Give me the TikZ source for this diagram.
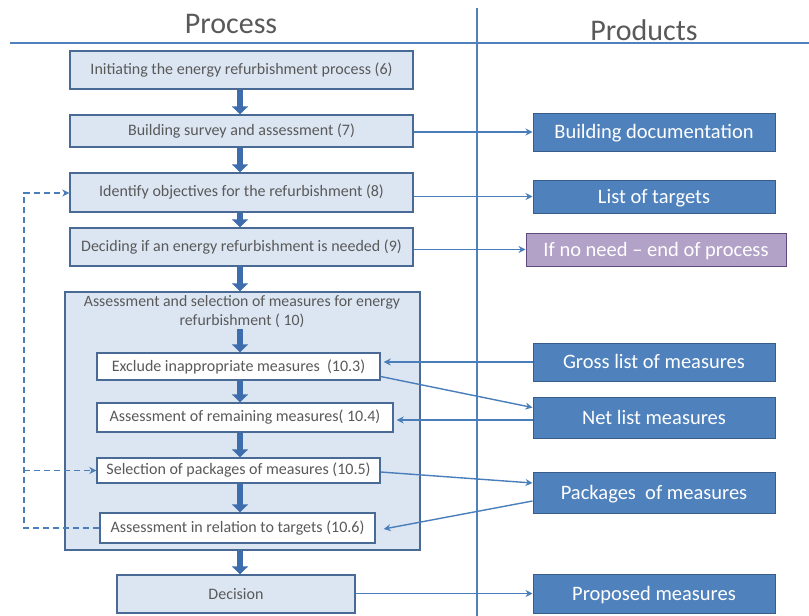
\documentclass[tikz,border=0pt]{standalone}
\usepackage{fontspec}
\setmainfont{Carlito}
\usetikzlibrary{arrows.meta}
\definecolor{boxfill}{HTML}{DCE6F2}
\definecolor{boxdraw}{HTML}{4A6A96}
\definecolor{txtgray}{HTML}{595959}
\definecolor{prodfill}{HTML}{4F81BD}
\definecolor{proddraw}{HTML}{385D8A}
\definecolor{purpfill}{HTML}{B3A2C7}
\definecolor{purpdraw}{HTML}{604A7B}
\definecolor{linecol}{HTML}{4F81BD}
\definecolor{conncol}{HTML}{4A7EBB}
\definecolor{blockcol}{HTML}{3E6DAE}
\begin{document}
\begin{tikzpicture}[x=1pt,y=-1pt,
  procbox/.style={draw=boxdraw, line width=1.4pt, fill=boxfill, text=txtgray, inner sep=0pt,
    font=\fontsize{16}{18}\selectfont, minimum width=343pt},
  subbox/.style={draw=boxdraw, line width=1.4pt, fill=white, text=txtgray, inner sep=0pt,
    font=\fontsize{16}{18}\selectfont},
  prodbox/.style={draw=proddraw, line width=1pt, fill=prodfill, text=white, inner sep=0pt,
    font=\fontsize{20.5}{22}\selectfont, minimum width=242pt, text height=16pt, text depth=3pt},
  title/.style={text=txtgray, font=\fontsize{30}{32}\selectfont, inner sep=0pt},
  blockarrow/.style={draw=blockcol, line width=6pt, -{Triangle[length=8pt,width=16pt]}, shorten >=0pt},
  conn/.style={draw=conncol, line width=1.4pt, -{Stealth[length=7pt,width=7pt]}},
  dashconn/.style={draw=conncol, line width=1.6pt, dash pattern=on 6pt off 4pt, -{Stealth[length=7pt,width=7pt]}},
  divider/.style={draw=linecol, line width=1.6pt}
]
\useasboundingbox (0,0) rectangle (809,616);
\fill[white] (0,0) rectangle (809,616);

% titles and dividers
\node[title] (tproc) at (231,24) {Process};
\node[title] (tprod) at (644,30) {Products};
\coordinate (hl) at (10,43);
\coordinate (hr) at (809,43);
\coordinate (vt) at (477,8);
\coordinate (vb) at (477,616);
\draw[divider] (hl) -- (hr);
\draw[divider] (vt) -- (vb);

% big container
\node[draw=boxdraw, line width=1.4pt, fill=boxfill, minimum width=355pt, minimum height=258pt, inner sep=0pt] (big) at (242.5,421) {};
\node[text=txtgray, font=\fontsize{15.8}{19}\selectfont, align=center, inner sep=0pt] (t10) at (242,312)
  {Assessment and selection of measures for energy\\ refurbishment ( 10)};

% process boxes
\node[procbox, minimum height=38pt] (b1) at (241.5,70) {Initiating the energy refurbishment process (6)};
\node[procbox, minimum height=32pt] (b2) at (241.5,131) {Building survey and assessment (7)};
\node[procbox, minimum height=39pt] (b3) at (241.5,192.5) {Identify objectives for the refurbishment (8)};
\node[procbox, minimum height=38pt] (b4) at (241.5,247) {Deciding if an energy refurbishment is needed (9)};

\node[subbox, minimum width=283pt, minimum height=27pt] (s3) at (238.5,366.5) {Exclude inappropriate measures\ \ (10.3)};
\node[subbox, minimum width=296pt, minimum height=29pt] (s4) at (245,417.5) {Assessment of remaining measures( 10.4)};
\node[subbox, minimum width=283pt, minimum height=25pt] (s5) at (238.5,470.5) {Selection of packages of measures (10.5)};
\node[subbox, minimum width=275pt, minimum height=30pt] (s6) at (237.5,528) {Assessment in relation to targets (10.6)};

\node[procbox, minimum width=238pt, minimum height=38pt] (dec) at (236,594) {Decision};

% products
\node[prodbox, minimum height=38pt] (p1) at (654,132) {Building documentation};
\node[prodbox, minimum height=33pt] (p2) at (654,196.5) {List of targets};
\node[prodbox, draw=purpdraw, fill=purpfill, minimum width=260pt, minimum height=33pt] (p3) at (656,249.5) {If no need -- end of process};
\node[prodbox, minimum height=38pt] (p4) at (654,362) {Gross list of measures};
\node[prodbox, minimum height=41pt] (p5) at (654,417.5) {Net list measures};
\node[prodbox, minimum height=41pt] (p6) at (654,492.5) {Packages\ \ of measures};
\node[prodbox, minimum height=39pt] (p7) at (654,593.5) {Proposed measures};

% block arrows (vertical flow)
\draw[blockarrow] (b1.south -| 240,0) -- (b2.north -| 240,0);
\draw[blockarrow] (b2.south -| 240,0) -- (b3.north -| 240,0);
\draw[blockarrow] (b3.south -| 240,0) -- (b4.north -| 240,0);
\draw[blockarrow] (b4.south -| 240,0) -- (big.north -| 240,0);
\draw[blockarrow] ([yshift=-1pt]t10.south -| 240,0) -- (s3.north -| 240,0);
\draw[blockarrow] (s3.south -| 240,0) -- (s4.north -| 240,0);
\draw[blockarrow] (s4.south -| 240,0) -- (s5.north -| 240,0);
\draw[blockarrow] (s5.south -| 240,0) -- (s6.north -| 240,0);
\draw[blockarrow] (big.south -| 240,0) -- (dec.north -| 240,0);

% connectors to products (yshift is in canvas direction, negative = down)
\draw[conn] (b2.east |- p1.west) -- (p1.west);
\draw[conn] (b3.east |- p2.west) -- (p2.west);
\draw[conn] (b4.east |- p3.west) -- (p3.west);
\draw[conn] (p4.west) -- ([xshift=3pt]s3.east |- p4.west);
\draw[conn] ([yshift=-10pt]s3.east) -- ([yshift=10pt]p5.west);
\draw[conn] ([yshift=-2.5pt]p5.west) -- ([xshift=3pt,yshift=-2.5pt]s4.east);
\draw[conn] ([yshift=-1.5pt]s5.east) -- ([yshift=9.5pt]p6.west);
\draw[conn] ([yshift=-8.5pt]p6.west) -- ([xshift=8pt,yshift=-1pt]s6.east);
\draw[conn] (dec.east |- p7.west) -- (p7.west);

% dashed feedback loops
\coordinate (dl) at (24,193);
\draw[dashconn] (s6.west) -| (dl) -- (b3.west |- dl);
\draw[dashconn] (dl |- s5.west) -- (s5.west);
\end{tikzpicture}
\end{document}
